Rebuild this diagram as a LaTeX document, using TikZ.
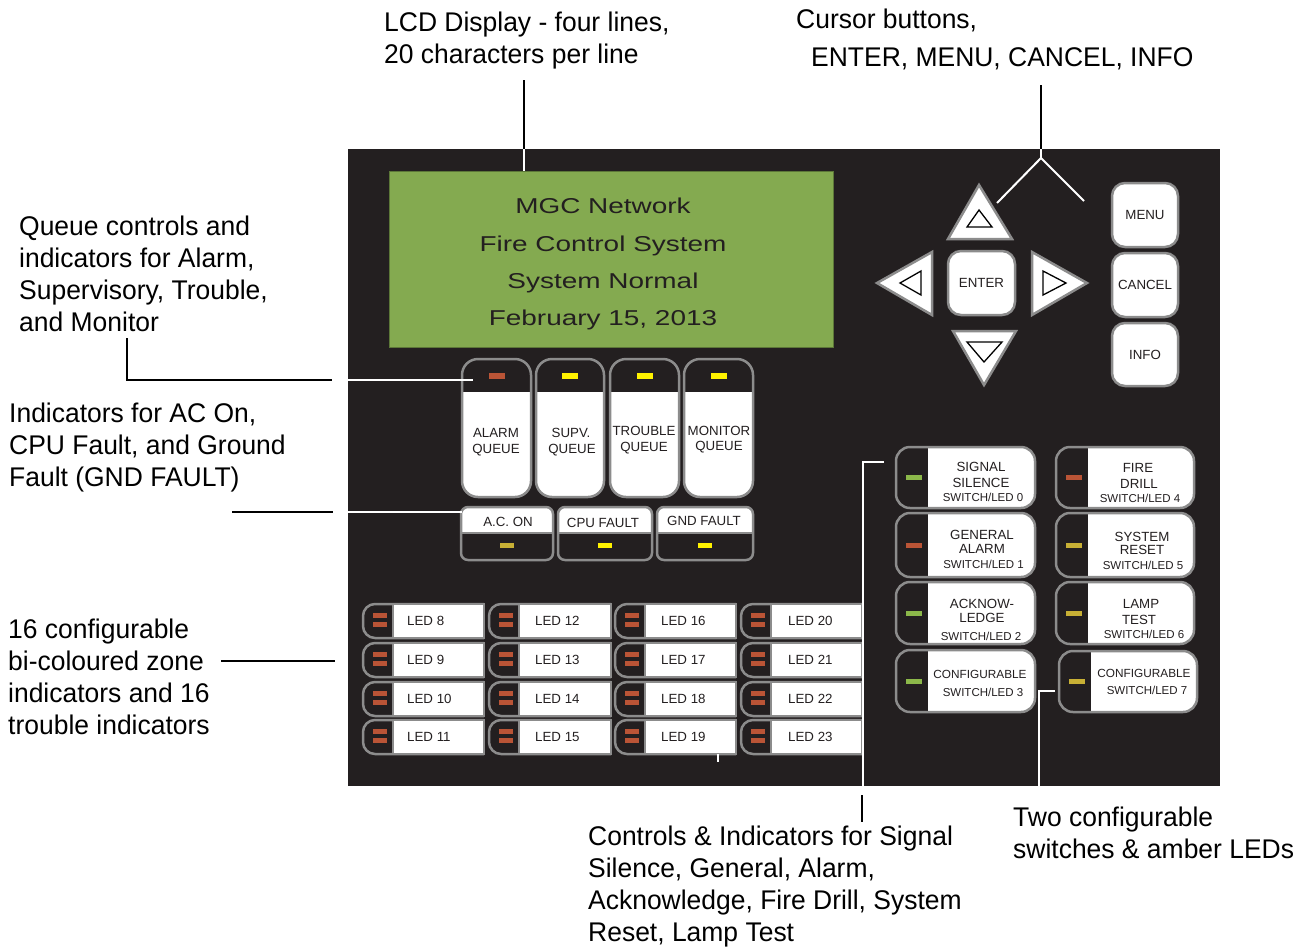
\documentclass[tikz,border=0pt]{standalone}
\usepackage{fontspec}
\setmainfont{Liberation Sans}
\newfontfamily\lblfont[FakeStretch=0.98]{Liberation Sans}
\newfontfamily\lcdfont[FakeStretch=1.3]{Liberation Sans}
\definecolor{panel}{HTML}{231F20}
\definecolor{bgray}{HTML}{8C8C8C}
\definecolor{lcdgreen}{HTML}{84AA50}
\definecolor{ledred}{HTML}{BA5436}
\definecolor{ledyel}{HTML}{FFF200}
\definecolor{ledamb}{HTML}{C8B035}
\definecolor{ledgrn}{HTML}{8CB84A}
\newcommand{\qbtn}[3]{%
  \begin{scope}
    \clip[rounded corners=16pt] (#1,359) rectangle (#2,497);
    \fill[white] (#1,359) rectangle (#2,497);
    \fill[panel] (#1,359) rectangle (#2,392);
  \end{scope}
  \draw[bord, rounded corners=16pt] (#1,359) rectangle (#2,497);
  \fill[#3] ({(#1+#2)/2-8},373) rectangle ({(#1+#2)/2+8},379);
}
\newcommand{\indbtn}[3]{%
  \begin{scope}
    \clip[rounded corners=7pt] (#1,507) rectangle (#2,560);
    \fill[panel] (#1,507) rectangle (#2,560);
    \fill[white] (#1,507) rectangle (#2,533);
  \end{scope}
  \draw[bord, rounded corners=7pt] (#1,507) rectangle (#2,560);
  \draw[bord] (#1,533) -- (#2,533);
  \fill[#3] ({(#1+#2)/2-7},543) rectangle ({(#1+#2)/2+7},548);
}
% x1, y1, x2, y2, xdark, led colour
\newcommand{\swbtn}[6]{%
  \begin{scope}
    \clip[rounded corners=14pt] (#1,#2) rectangle (#3,#4);
    \fill[white] (#1,#2) rectangle (#3,#4);
    \fill[panel] (#1,#2) rectangle (#5,#4);
  \end{scope}
  \draw[bord, rounded corners=14pt] (#1,#2) rectangle (#3,#4);
  \fill[#6] (#1+10,{(#2+#4)/2-2.5}) rectangle (#1+26,{(#2+#4)/2+2.5});
}
\begin{document}
\begin{tikzpicture}[x=1pt,y=-1pt,
  bord/.style={draw=bgray, line width=2.5pt},
  callout/.style={draw=black, line width=2.8pt},
  wcall/.style={draw=white, line width=2.5pt},
  lbl/.style={font=\lblfont\fontsize{27}{32}\selectfont, align=left, anchor=north west, inner sep=0pt},
  ptxt/.style={font=\fontsize{13.3}{15}\selectfont, inner sep=0pt, anchor=base, text=panel},
  stxt/.style={font=\fontsize{11.5}{13}\selectfont, inner sep=0pt, anchor=base, text=panel},
  ctxt/.style={font=\fontsize{11.8}{13}\selectfont, inner sep=0pt, anchor=base, text=panel},
  lcdtxt/.style={font=\lcdfont\fontsize{21.5}{24}\selectfont, inner sep=0pt, anchor=base, text=panel},
  rbtn/.style={draw=bgray, line width=2.5pt, fill=white, rounded corners=13pt, inner sep=0pt,
               font=\fontsize{13.3}{15}\selectfont, text=panel},
  tri/.style={draw=bgray, line width=2.5pt, fill=white},
  itri/.style={draw=black, line width=1.3pt}
]
\useasboundingbox (0,0) rectangle (1305,946);

% panel and LCD
\node[fill=panel, minimum width=872pt, minimum height=637pt, inner sep=0pt, anchor=north west] (panel) at (348,149) {};
\node[fill=lcdgreen, draw=lcdgreen!70!black, line width=0.6pt, minimum width=444pt, minimum height=176pt, inner sep=0pt, anchor=north west] (lcd) at (389,171) {};
\node[lcdtxt] (lcd1) at (603,213) {MGC Network};
\node[lcdtxt] (lcd2) at (603,251) {Fire Control System};
\node[lcdtxt] (lcd3) at (603,288) {System Normal};
\node[lcdtxt] (lcd4) at (603,325) {February 15, 2013};

% cursor buttons
\filldraw[tri] (979,185) -- (1012,239) -- (948,239) -- cycle;
\draw[itri] (979,210) -- (992,227) -- (967,227) -- cycle;
\filldraw[tri] (877,283) -- (932,252) -- (932,315) -- cycle;
\draw[itri] (900,283) -- (921,271) -- (921,295) -- cycle;
\filldraw[tri] (1087,283) -- (1032,252) -- (1032,315) -- cycle;
\draw[itri] (1066,283) -- (1043,271) -- (1043,295) -- cycle;
\filldraw[tri] (984,385) -- (953,331) -- (1016,331) -- cycle;
\draw[itri] (984,362) -- (967,342) -- (1002,342) -- cycle;
\node[rbtn, minimum width=67pt, minimum height=64pt] (enter) at (981.5,283) {ENTER};
\node[rbtn, minimum width=66pt, minimum height=64pt] (menu) at (1145,215) {MENU};
\node[rbtn, minimum width=66pt, minimum height=64pt] (cancel) at (1145,285) {CANCEL};
\node[rbtn, minimum width=66pt, minimum height=63pt] (info) at (1145,354.5) {INFO};

% queue buttons
\qbtn{462}{531}{ledred}
\qbtn{536}{604}{ledyel}
\qbtn{610}{679}{ledyel}
\qbtn{684}{753}{ledyel}
\node[ptxt] (qa1) at (496,437) {ALARM};
\node[ptxt] (qa2) at (496,453) {QUEUE};
\node[ptxt] (qs1) at (571,437) {SUPV.};
\node[ptxt] (qs2) at (572,453) {QUEUE};
\node[ptxt] (qt1) at (644,435) {TROUBLE};
\node[ptxt] (qt2) at (644,451) {QUEUE};
\node[ptxt] (qm1) at (719,435) {MONITOR};
\node[ptxt] (qm2) at (719,450) {QUEUE};

% status indicators
\indbtn{461}{553}{ledamb}
\indbtn{558}{652}{ledyel}
\indbtn{657}{753}{ledyel}
\node[ptxt] (acon) at (508,526) {A.C. ON};
\node[ptxt] (cpuf) at (603,527) {CPU FAULT};
\node[ptxt] (gndf) at (704,525) {GND FAULT};

% LED grid
\foreach \c/\xa/\xb/\xt in {0/363/484/407, 1/489/611/535, 2/615/736/661, 3/741/862/788} {
  \foreach \r/\ya in {0/604, 1/643, 2/682, 3/720} {
    \pgfmathtruncatemacro\n{8+4*\c+\r}
    \begin{scope}
      \clip (\xa-3,\ya-3) rectangle (\xb,\ya+37);
      \filldraw[fill=panel, bord, rounded corners=12pt] (\xa,\ya) rectangle (\xb+20,\ya+34);
    \end{scope}
    \filldraw[fill=white, bord] (\xa+30,\ya) rectangle (\xb,\ya+34);
    \fill[ledred] (\xa+10,\ya+9) rectangle (\xa+24,\ya+13.5);
    \fill[ledred] (\xa+10,\ya+18) rectangle (\xa+24,\ya+22.5);
    \node[ptxt, anchor=base west] (led\n) at (\xt,\ya+21) {LED \n};
  }
}

% switch buttons
\swbtn{896}{447}{1035}{508}{928}{ledgrn}
\swbtn{896}{513}{1035}{577}{928}{ledred}
\swbtn{896}{582}{1035}{644}{928}{ledgrn}
\swbtn{896}{650}{1035}{712}{928}{ledgrn}
\swbtn{1056}{447}{1194}{508}{1088}{ledred}
\swbtn{1056}{513}{1194}{577}{1088}{ledamb}
\swbtn{1056}{582}{1194}{644}{1088}{ledamb}
\swbtn{1059}{651}{1197}{712}{1091}{ledamb}
\node[ptxt] (s0a) at (981,471) {SIGNAL};
\node[ptxt] (s0b) at (981,487) {SILENCE};
\node[stxt] (s0c) at (983,501) {SWITCH/LED 0};
\node[ptxt] (s1a) at (982,539) {GENERAL};
\node[ptxt] (s1b) at (982,553) {ALARM};
\node[stxt] (s1c) at (983.5,568) {SWITCH/LED 1};
\node[ptxt] (s2a) at (982,608) {ACKNOW-};
\node[ptxt] (s2b) at (982,622) {LEDGE};
\node[stxt] (s2c) at (981,640) {SWITCH/LED 2};
\node[ctxt] (s3a) at (980,678) {CONFIGURABLE};
\node[stxt] (s3c) at (983,696) {SWITCH/LED 3};
\node[ptxt] (s4a) at (1138,472) {FIRE};
\node[ptxt] (s4b) at (1139,488) {DRILL};
\node[stxt] (s4c) at (1140,502) {SWITCH/LED 4};
\node[ptxt] (s5a) at (1142,541) {SYSTEM};
\node[ptxt] (s5b) at (1142,554) {RESET};
\node[stxt] (s5c) at (1143,569) {SWITCH/LED 5};
\node[ptxt] (s6a) at (1141,608) {LAMP};
\node[ptxt] (s6b) at (1139,624) {TEST};
\node[stxt] (s6c) at (1144,638) {SWITCH/LED 6};
\node[ctxt] (s7a) at (1144,677) {CONFIGURABLE};
\node[stxt] (s7c) at (1147,694) {SWITCH/LED 7};

% labels
\node[lbl] (tlcd) at (384,11.6) {LCD Display - four lines,\\20 characters per line};
\node[lbl] (tcur1) at (796,8.6) {Cursor buttons,};
\node[lbl] (tcur2) at (811,47.6) {ENTER, MENU, CANCEL, INFO};
\node[lbl] (tque) at (19,215.6) {Queue controls and\\indicators for Alarm,\\Supervisory, Trouble,\\and Monitor};
\node[lbl] (tind) at (9,402.6) {Indicators for AC On,\\CPU Fault, and Ground\\Fault (GND FAULT)};
\node[lbl] (tled) at (8,618.6) {16 configurable\\bi-coloured zone\\indicators and 16\\trouble indicators};
\node[lbl] (tctl) at (588,825.6) {Controls \& Indicators for Signal\\Silence, General, Alarm,\\Acknowledge, Fire Drill, System\\Reset, Lamp Test};
\node[lbl] (ttwo) at (1013,806.6) {Two configurable\\switches \& amber LEDs};

% callout lines
\coordinate (lcdA) at (524,80);
\coordinate (lcdB) at (524,149);
\draw[callout] (lcdA) -- (lcdB);
\draw[wcall] (lcdB) -- (lcdB |- lcd.north);

\coordinate (curA) at (1041,85);
\coordinate (curB) at (1041,149);
\coordinate (curF) at (1041,158);
\coordinate (curL) at (997,203);
\coordinate (curR) at (1084,201);
\draw[callout] (curA) -- (curB);
\draw[wcall] (curB) -- (curF);
\draw[draw=white, line width=2pt] (curL) -- (curF) -- (curR);

\coordinate (qA) at (127,338);
\coordinate (qB) at (127,380);
\coordinate (qC) at (332,380);
\coordinate (qD) at (348,380);
\coordinate (qE) at (473,380);
\draw[callout] (qA) -- (qB) -- (qC);
\draw[wcall] (qD) -- (qE);

\coordinate (iA) at (232,512);
\coordinate (iB) at (333,512);
\coordinate (iC) at (348,512);
\coordinate (iD) at (462,512);
\draw[callout] (iA) -- (iB);
\draw[wcall] (iC) -- (iD);

\coordinate (zA) at (221,661);
\coordinate (zB) at (335,661);
\draw[callout] (zA) -- (zB);

\coordinate (sA) at (884,462);
\coordinate (sB) at (863,462);
\coordinate (sC) at (863,786);
\coordinate (sD) at (862,795);
\coordinate (sE) at (862,822);
\draw[wcall] (sA) -- (sB) -- (sC);
\draw[callout] (sD) -- (sE);

\coordinate (cA) at (1055,691);
\coordinate (cB) at (1039,691);
\coordinate (cC) at (1039,786);
\draw[wcall] (cA) -- (cB) -- (cC);

\coordinate (tkA) at (718,754);
\coordinate (tkB) at (718,762);
\draw[wcall] (tkA) -- (tkB);
\end{tikzpicture}
\end{document}
